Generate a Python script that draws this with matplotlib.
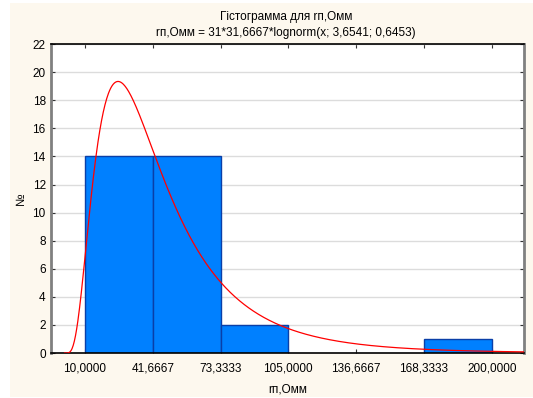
import numpy as np
import matplotlib
matplotlib.use("Agg")
import matplotlib.pyplot as plt
from matplotlib.patches import Rectangle

plt.rcParams['font.family'] = ['Liberation Sans', 'DejaVu Sans']

# histogram bins and counts
bin_edges = [10.0, 41.6667, 73.3333, 105.0, 136.6667, 168.3333, 200.0]
counts = [14, 14, 2, 0, 0, 1]
tick_labels = ['10,0000', '41,6667', '73,3333', '105,0000', '136,6667', '168,3333', '200,0000']

# fitted lognormal as given in the chart subtitle
n_obs = 31
bin_w = 31.6667
mu, sigma = 3.6541, 0.6453

fig = plt.figure(figsize=(5.33, 3.98), dpi=100)
fig.patch.set_facecolor('white')
# cream panel, slightly inset at top-left like the original export
fig.patches.append(Rectangle((10 / 533, 1 / 398), 1 - 10 / 533, 1 - 4 / 398,
                             transform=fig.transFigure, facecolor='#fdf8ee',
                             edgecolor='none', zorder=-10))
ax = fig.add_axes([0.095, 0.113, 0.888, 0.776])
ax.set_facecolor('white')

lefts = bin_edges[:-1]
widths = np.diff(bin_edges)
nz = [i for i, c in enumerate(counts) if c > 0]
ax.bar([lefts[i] for i in nz], [counts[i] for i in nz], width=[widths[i] for i in nz],
       align='edge', color='#0080ff', edgecolor='#0a3fa8', linewidth=1.0, zorder=2)

x = np.linspace(0.5, 216, 800)
pdf = np.exp(-(np.log(x) - mu) ** 2 / (2 * sigma ** 2)) / (x * sigma * np.sqrt(2 * np.pi))
ax.plot(x, n_obs * bin_w * pdf, color='#ff0000', linewidth=0.9, zorder=3)

ax.set_xlim(-6, 215)
ax.set_ylim(0, 22)
ax.set_xticks(bin_edges)
ax.set_xticklabels(tick_labels)
ax.set_yticks(range(0, 23, 2))
ax.yaxis.grid(True, color='#dcdcdc', linewidth=1.0, zorder=0)
ax.tick_params(axis='both', labelsize=8.5, direction='in', length=3, color='#333333')
ax.tick_params(axis='x', pad=7)
ax.tick_params(top=True, right=True)

for side in ['top', 'bottom']:
    ax.spines[side].set_color('black')
    ax.spines[side].set_linewidth(1.2)
for side in ['left', 'right']:
    ax.spines[side].set_color('#808080')
    ax.spines[side].set_linewidth(2.0)

ax.set_xlabel('rп,Омм', fontsize=8.5, labelpad=6)
ax.set_ylabel('№', fontsize=8.5, labelpad=4)
fig.text(0.537, 0.958, 'Гістограмма для rп,Омм', ha='center', va='center', fontsize=8.5)
fig.text(0.537, 0.918, 'rп,Омм = 31*31,6667*lognorm(x; 3,6541; 0,6453)', ha='center', va='center', fontsize=8.5)

fig.savefig('out.png', dpi=100, facecolor=fig.get_facecolor())
